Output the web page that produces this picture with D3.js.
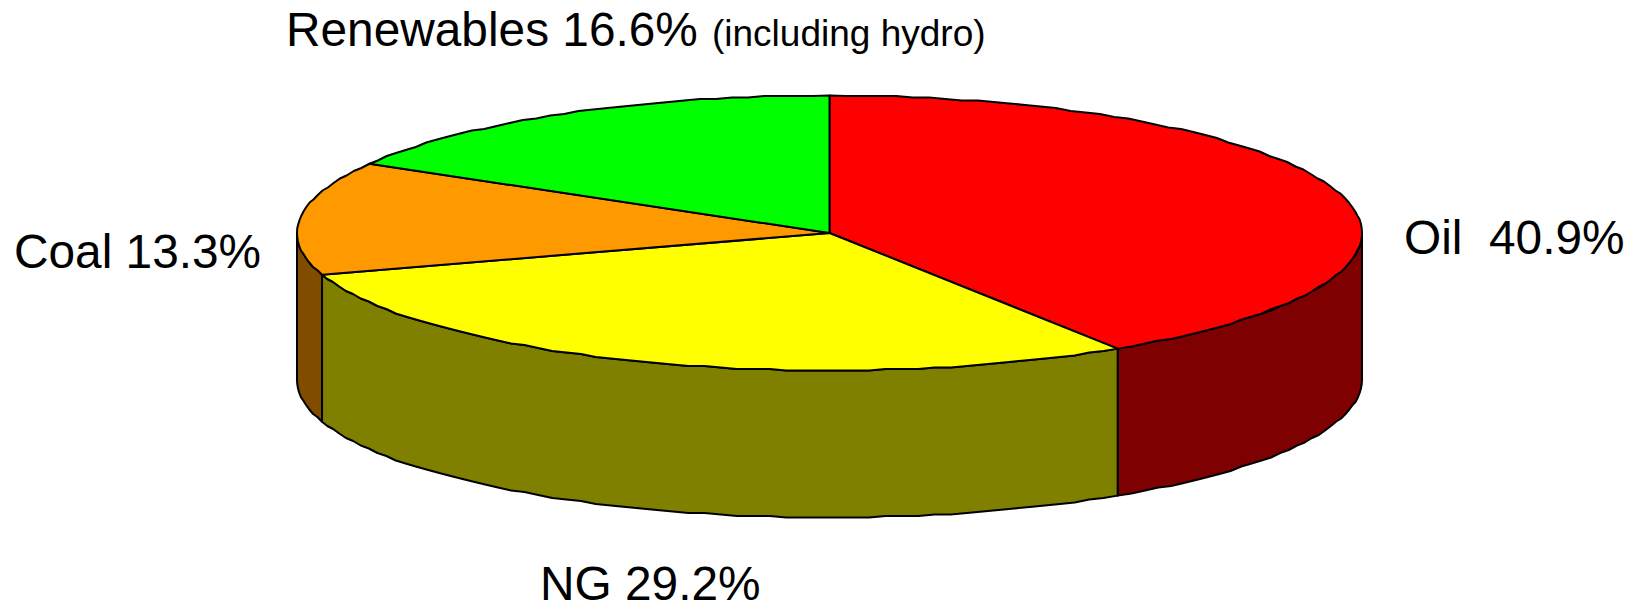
<!DOCTYPE html>
<html><head><meta charset="utf-8">
<script src="https://cdn.jsdelivr.net/npm/d3@7/dist/d3.min.js"></script>
<style>html,body{margin:0;padding:0;background:#fff}svg{display:block}text{font-family:"Liberation Sans",Arial,sans-serif;fill:#000}</style>
</head><body><svg id="c" width="1642" height="604"></svg>
<script>
const categories = ["Oil", "NG", "Coal", "Renewables"];
const shares = [40.9, 29.2, 13.3, 16.6];
const topColors = ["#ff0000", "#ffff00", "#ff9900", "#00ff00"];
const sideColors = ["#7f0000", "#808000", "#804c00", "#008000"];
const labelTexts = ["Oil  40.9%", "NG 29.2%", "Coal 13.3%", "Renewables 16.6%"];
const labelNote = "(including hydro)";

const cx = 829.5, cy = 233, rx = 532.5, ry = 137.5, depth = 147;
const svg = d3.select("#c");
const x = d3.scaleLinear().domain([-1, 1]).range([cx - rx, cx + rx]);
const y = d3.scaleLinear().domain([-1, 1]).range([cy - ry, cy + ry]);
const pie = d3.pie().sort(null).value(d => d)(shares);
const line = d3.line();
const grid = 1.5;
const snap = v => Math.round(v / grid) * grid;
const pt = (a, dz) => [x(Math.sin(a)), snap(y(-Math.cos(a))) + dz];
function arcPts(a0, a1, dz) {
  const n = Math.max(2, Math.ceil((a1 - a0) / (Math.PI / 100)));
  return d3.range(n + 1).map(i => {
    const a = a0 + (a1 - a0) * i / n;
    return (i === 0 || i === n) ? [x(Math.sin(a)), y(-Math.cos(a)) + dz] : pt(a, dz);
  });
}
const front0 = Math.PI / 2, front1 = 3 * Math.PI / 2;
pie.forEach((p, i) => {
  const a0 = Math.max(p.startAngle, front0), a1 = Math.min(p.endAngle, front1);
  if (a1 <= a0) return;
  const top = arcPts(a0, a1, 0), bot = arcPts(a0, a1, depth).reverse();
  svg.append("path").attr("d", line(top.concat(bot)) + "Z")
    .attr("fill", sideColors[i]).attr("stroke", "#000").attr("stroke-width", 2)
    .attr("stroke-linejoin", "round");
});
pie.forEach((p, i) => {
  const pts = [[x(0), y(0)]].concat(arcPts(p.startAngle, p.endAngle, 0));
  svg.append("path").attr("d", line(pts) + "Z")
    .attr("fill", topColors[i]).attr("stroke", "#000").attr("stroke-width", 2)
    .attr("stroke-linejoin", "round");
});
const fs = 47.8;
const labelPos = [[1404, 254], [540, 600], [14, 268], [286, 46]];
labelTexts.forEach((t, i) => {
  svg.append("text").attr("x", labelPos[i][0]).attr("y", labelPos[i][1])
    .attr("font-size", fs).style("white-space", "pre").text(t);
});
svg.append("text").attr("x", 712).attr("y", 46).attr("font-size", 37).text(labelNote);
</script></body></html>
